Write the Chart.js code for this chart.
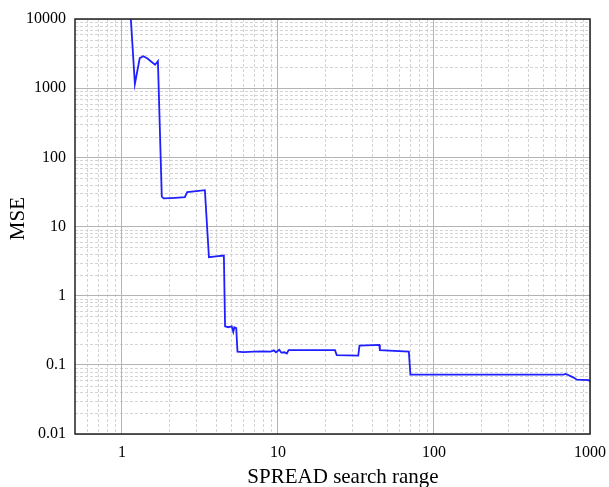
<!DOCTYPE html>
<html>
<head>
<meta charset="utf-8">
<script src="https://cdn.jsdelivr.net/npm/chart.js@4"></script>
<style>
    html, body { margin: 0; padding: 0; background: #fff; }
</style>
</head>
<body>
<canvas id="mseChart" width="609" height="487"></canvas>
<script>
// SPREAD search range (x) and MSE (y)
const spreadRange = [
    1.14, 1.21, 1.30, 1.37, 1.45, 1.63, 1.70, 1.80,
    1.85, 2.2, 2.53, 2.62, 3.0, 3.40, 3.61,
    4.0, 4.50, 4.58, 4.8, 5.05, 5.17, 5.25, 5.40, 5.50,
    6, 7, 8, 9.0, 9.4, 9.7, 10.2, 10.5, 11.0, 11.4, 11.7,
    16, 23.2, 23.8, 32.7, 33.3, 44.6, 45, 69, 70.6,
    200, 675, 700, 780, 824, 983, 1000
];
const mseValues = [
    10000, 1150, 2720, 2900, 2700, 2180, 2450, 27,
    25.5, 26, 26.5, 31.5, 32.5, 33.5, 3.6,
    3.7, 3.8, 0.36, 0.35, 0.36, 0.30, 0.35, 0.34, 0.155,
    0.153, 0.155, 0.157, 0.155, 0.162, 0.152, 0.165, 0.15, 0.152, 0.146, 0.163,
    0.163, 0.163, 0.138, 0.136, 0.19, 0.194, 0.163, 0.155, 0.072,
    0.072, 0.072, 0.074, 0.066, 0.061, 0.06, 0.057
];

const xTickValues = [1, 10, 100, 1000];
const xTickLabels = ['1', '10', '100', '1000'];
const yTickValues = [0.01, 0.1, 1, 10, 100, 1000, 10000];
const yTickLabels = ['0.01', '0.1', '1', '10', '100', '1000', '10000'];

Chart.defaults.font.family = "'Liberation Serif', 'DejaVu Serif', serif";
Chart.defaults.color = '#000';

// minor values 2..9 per decade inside [min, max], majors excluded
function minorValues(min, max) {
    const out = [];
    for (let e = Math.floor(Math.log10(min)); e < Math.ceil(Math.log10(max)); e++) {
        for (let d = 2; d <= 9; d++) {
            const v = d * Math.pow(10, e);
            if (v > min * 1.0001 && v < max * 0.9999) out.push(v);
        }
    }
    return out;
}

const gridAndFrame = {
    id: 'gridAndFrame',
    beforeDraw(chart) {
        const { ctx, chartArea: a, scales } = chart;
        ctx.save();
        ctx.strokeStyle = '#d4d4d4';
        ctx.lineWidth = 1;
        ctx.setLineDash([3, 2]);
        minorValues(scales.x.min, scales.x.max).forEach(v => {
            const px = Math.round(scales.x.getPixelForValue(v)) + 0.5;
            ctx.beginPath(); ctx.moveTo(px, a.top); ctx.lineTo(px, a.bottom); ctx.stroke();
        });
        minorValues(scales.y.min, scales.y.max).forEach(v => {
            const py = Math.round(scales.y.getPixelForValue(v)) + 0.5;
            ctx.beginPath(); ctx.moveTo(a.left, py); ctx.lineTo(a.right, py); ctx.stroke();
        });
        ctx.restore();
    },
    afterDraw(chart) {
        const { ctx, chartArea: a } = chart;
        ctx.save();
        ctx.strokeStyle = '#222';
        ctx.lineWidth = 1.5;
        ctx.strokeRect(a.left, a.top, a.right - a.left, a.bottom - a.top);
        ctx.restore();
    }
};

const ctx = document.getElementById('mseChart').getContext('2d');
new Chart(ctx, {
    type: 'line',
    data: {
        datasets: [{
            data: spreadRange.map((x, i) => ({ x: x, y: mseValues[i] })),
            borderColor: '#2020ff',
            borderWidth: 1.8,
            pointRadius: 0,
            tension: 0,
            fill: false
        }]
    },
    options: {
        responsive: false,
        animation: false,
        layout: { padding: { top: 19, right: 19, left: 0, bottom: 0 } },
        plugins: {
            legend: { display: false },
            tooltip: { enabled: false }
        },
        scales: {
            x: {
                type: 'logarithmic',
                min: 0.5,
                max: 1000,
                afterBuildTicks: scale => { scale.ticks = xTickValues.map(v => ({ value: v })); },
                afterFit: scale => {
                    scale.height = 53;
                    scale.paddingLeft = 0;
                    scale.paddingRight = 0;
                },
                ticks: {
                    font: { size: 16 },
                    padding: 9,
                    maxRotation: 0,
                    autoSkip: false,
                    callback: value => xTickLabels[xTickValues.indexOf(value)]
                },
                grid: { color: '#b4b4b4', lineWidth: 1, drawTicks: false },
                border: { display: false },
                title: {
                    display: true,
                    // leading spaces nudge the title right, as in the reference
                    text: '    SPREAD search range',
                    font: { size: 21 },
                    padding: { top: 0, bottom: -3 }
                }
            },
            y: {
                type: 'logarithmic',
                min: 0.01,
                max: 10000,
                afterBuildTicks: scale => { scale.ticks = yTickValues.map(v => ({ value: v })); },
                afterFit: scale => {
                    scale.width = 75;
                    scale.paddingTop = 0;
                    scale.paddingBottom = 0;
                },
                ticks: {
                    font: { size: 16 },
                    padding: 9,
                    autoSkip: false,
                    callback: value => yTickLabels[yTickValues.indexOf(value)]
                },
                grid: { color: '#b4b4b4', lineWidth: 1, drawTicks: false },
                border: { display: false },
                title: {
                    display: true,
                    text: '   MSE',
                    font: { size: 21 },
                    padding: { top: 6, bottom: 0 }
                }
            }
        }
    },
    plugins: [gridAndFrame]
});
</script>
</body>
</html>
